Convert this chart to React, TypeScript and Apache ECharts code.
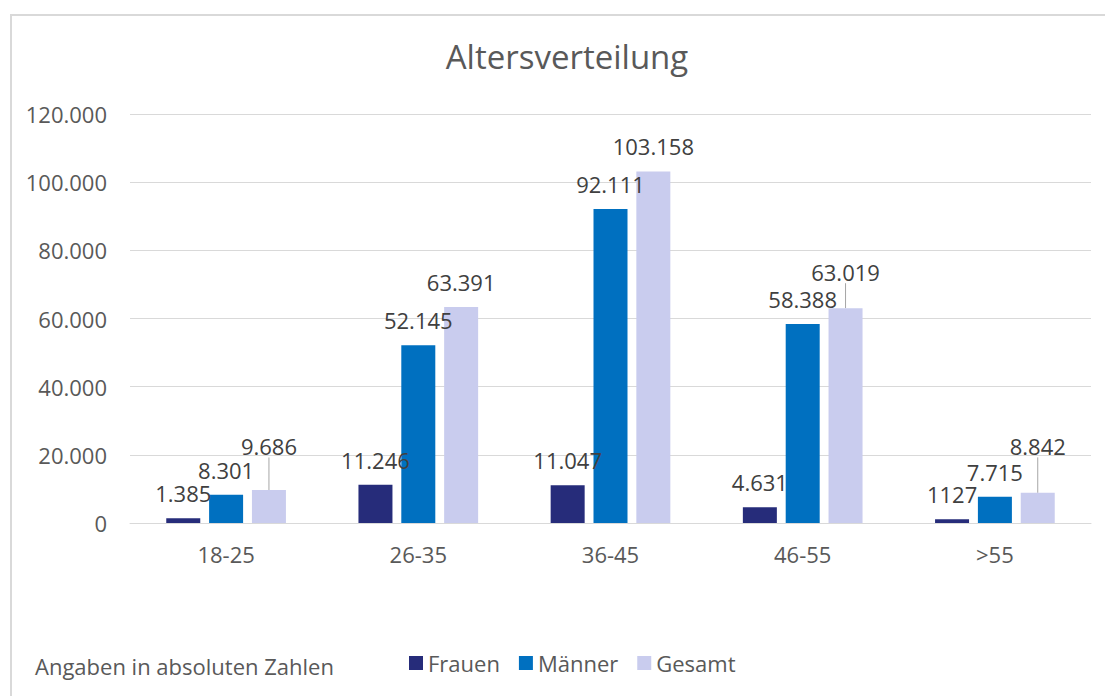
import React, { useEffect, useRef } from "react";
import * as echarts from "echarts";

const categories = ["18-25", "26-35", "36-45", "46-55", ">55"];
const frauen = [1385, 11246, 11047, 4631, 1127];
const maenner = [8301, 52145, 92111, 58388, 7715];
const gesamt = [9686, 63391, 103158, 63019, 8842];
const frauenLabels = ["1.385", "11.246", "11.047", "4.631", "1127"];
const gesamtLabelShift = [-18.5, 0, 0, -11, -21.5];
const yTicks = { min: 0, max: 120000, interval: 20000 };

const FONT = "'Open Sans', 'Noto Sans', sans-serif";
const FS = 22;
const GAP = 8;
const fmt = (v: number) => (v === 0 ? "0" : v.toLocaleString("de-DE"));

export default function App() {
  const ref = useRef<HTMLDivElement>(null);
  useEffect(() => {
    if (!ref.current) return;
    const chart = echarts.init(ref.current, undefined, { renderer: "svg" });
    const labelBase = {
      show: true,
      position: "top" as const,
      distance: 14,
      color: "#404040",
      fontSize: FS,
      fontFamily: FONT,
    };
    chart.setOption({
      animation: false,
      backgroundColor: "#ffffff",
      textStyle: { fontFamily: FONT },
      graphic: [
        {
          type: "rect",
          shape: { x: 11, y: 15, width: 1200, height: 800 },
          style: { fill: "none", stroke: "#d9d9d9", lineWidth: 2 },
          silent: true,
          z: -10,
        },
        {
          type: "text",
          x: 567,
          y: 56,
          style: {
            text: "Altersverteilung",
            fill: "#595959",
            fontSize: 33,
            fontFamily: FONT,
            align: "center",
            verticalAlign: "middle",
          },
        },
        {
          type: "text",
          x: 35,
          y: 666,
          style: {
            text: "Angaben in absoluten Zahlen",
            fill: "#595959",
            fontSize: FS,
            fontFamily: FONT,
            align: "left",
            verticalAlign: "middle",
          },
        },
      ],
      legend: {
        left: 409,
        top: 652,
        padding: 0,
        itemWidth: 14,
        itemHeight: 14,
        itemGap: 19,
        icon: "rect",
        textStyle: { color: "#595959", fontSize: FS, fontFamily: FONT },
        data: ["Frauen", "Männer", "Gesamt"],
      },
      grid: { left: 130, right: 14, top: 114, bottom: 173, containLabel: false },
      xAxis: {
        type: "category",
        data: categories,
        axisLine: { lineStyle: { color: "#d9d9d9", width: 1 } },
        axisTick: { show: false },
        axisLabel: { color: "#595959", fontSize: FS, fontFamily: FONT, margin: 20 },
      },
      yAxis: {
        type: "value",
        min: yTicks.min,
        max: yTicks.max,
        interval: yTicks.interval,
        axisLine: { show: false },
        axisTick: { show: false },
        splitLine: { lineStyle: { color: "#d9d9d9", width: 1 } },
        axisLabel: {
          color: "#595959",
          fontSize: FS,
          fontFamily: FONT,
          margin: 23,
          formatter: (v: number) => fmt(v),
        },
      },
      series: [
        {
          name: "Frauen",
          type: "bar",
          data: frauen,
          barWidth: 34,
          barGap: "26%",
          itemStyle: { color: "#262C7A" },
          label: { ...labelBase, formatter: (p: any) => frauenLabels[p.dataIndex] },
        },
        {
          name: "Männer",
          type: "bar",
          data: maenner,
          barWidth: 34,
          barGap: "26%",
          itemStyle: { color: "#0070C0" },
          label: { ...labelBase, formatter: (p: any) => fmt(p.value) },
        },
        {
          name: "Gesamt",
          type: "bar",
          data: gesamt.map((v, i) =>
            gesamtLabelShift[i] !== 0
              ? {
                  value: v,
                  label: { padding: [0, 0, GAP, 0] },
                  labelLine: { show: true },
                }
              : { value: v, labelLine: { show: false } }
          ),
          barWidth: 34,
          barGap: "26%",
          itemStyle: { color: "#C9CCEE" },
          label: { ...labelBase, formatter: (p: any) => fmt(p.value) },
          labelLayout: (p: any) => ({
            dy: gesamtLabelShift[p.dataIndex] === 0 ? 0 : gesamtLabelShift[p.dataIndex] + GAP,
          }),
          labelLine: { lineStyle: { color: "#a6a6a6", width: 1 } },
        },
      ],
    });
    return () => chart.dispose();
  }, []);
  return (
    <div
      ref={ref}
      style={{ position: "fixed", left: 0, top: 0, width: 1105, height: 696 }}
    />
  );
}
